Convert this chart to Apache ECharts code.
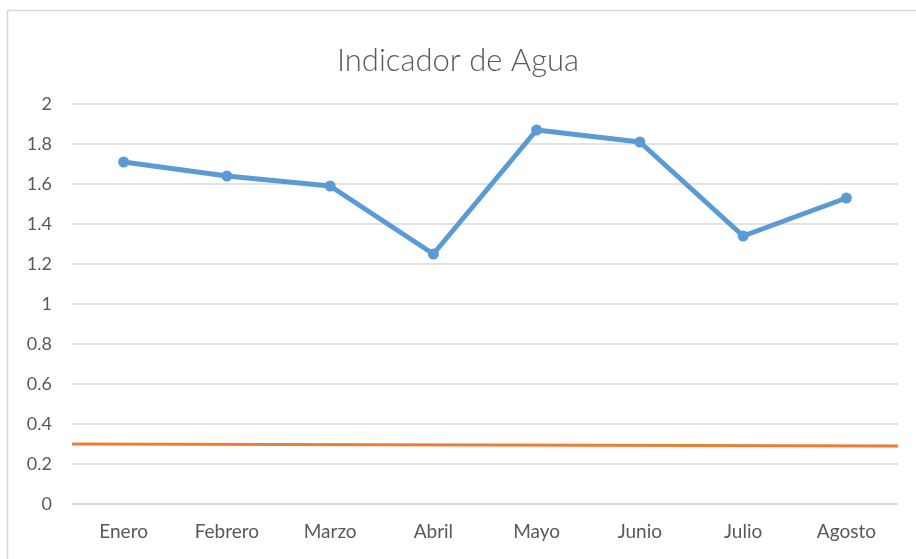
<!DOCTYPE html>
<html>
<head>
<meta charset="utf-8">
<title>Indicador de Agua</title>
<script src="https://cdn.jsdelivr.net/npm/echarts@6/dist/echarts.min.js"></script>
<style>
  html, body { margin: 0; padding: 0; background: #fff; }
  #chart { width: 916px; height: 559px; }
</style>
</head>
<body>
<div id="chart"></div>
<script>
// datos
var meses = ['Enero', 'Febrero', 'Marzo', 'Abril', 'Mayo', 'Junio', 'Julio', 'Agosto'];
var indicador = [1.71, 1.64, 1.59, 1.25, 1.87, 1.81, 1.34, 1.53];
// linea de referencia (inicio y fin, cruza todo el area)
var referencia = [[0, 0.30], [1, 0.29]];
var ticksY = [0, 0.2, 0.4, 0.6, 0.8, 1, 1.2, 1.4, 1.6, 1.8, 2];

var myChart = echarts.init(document.getElementById('chart'));
var fuente = 'Lato, "Open Sans", sans-serif';
myChart.setOption({
  animation: false,
  title: {
    text: 'Indicador de Agua',
    left: 'center',
    top: 40,
    textStyle: { color: '#595959', fontSize: 31, fontWeight: 300, fontFamily: fuente }
  },
  graphic: [{
    type: 'rect',
    shape: { x: 7.5, y: 10.5, width: 1000, height: 1000 },
    style: { fill: 'none', stroke: '#d9d9d9', lineWidth: 1.5 },
    silent: true
  }],
  grid: { left: 72, right: 18, top: 104, bottom: 55 },
  xAxis: [{
    type: 'category',
    data: meses,
    boundaryGap: true,
    axisLine: { lineStyle: { color: '#d9d9d9', width: 1.5 } },
    axisTick: { show: false },
    axisLabel: { color: '#595959', fontSize: 19, fontFamily: fuente, margin: 18 }
  }, {
    type: 'value',
    min: 0,
    max: 1,
    show: false
  }],
  yAxis: {
    type: 'value',
    min: ticksY[0],
    max: ticksY[ticksY.length - 1],
    interval: 0.2,
    axisLine: { show: false },
    axisTick: { show: false },
    splitLine: { lineStyle: { color: '#d9d9d9', width: 1.5 } },
    axisLabel: { color: '#595959', fontSize: 18, fontFamily: fuente, margin: 20 }
  },
  series: [{
    name: 'Indicador',
    type: 'line',
    data: indicador,
    symbol: 'circle',
    symbolSize: 11,
    lineStyle: { color: '#5b9bd5', width: 5 },
    itemStyle: { color: '#5b9bd5' },
    z: 3
  }, {
    name: 'Referencia',
    type: 'line',
    xAxisIndex: 1,
    data: referencia,
    symbol: 'none',
    lineStyle: { color: '#ed7d31', width: 3 },
    z: 2
  }]
});
</script>
</body>
</html>
